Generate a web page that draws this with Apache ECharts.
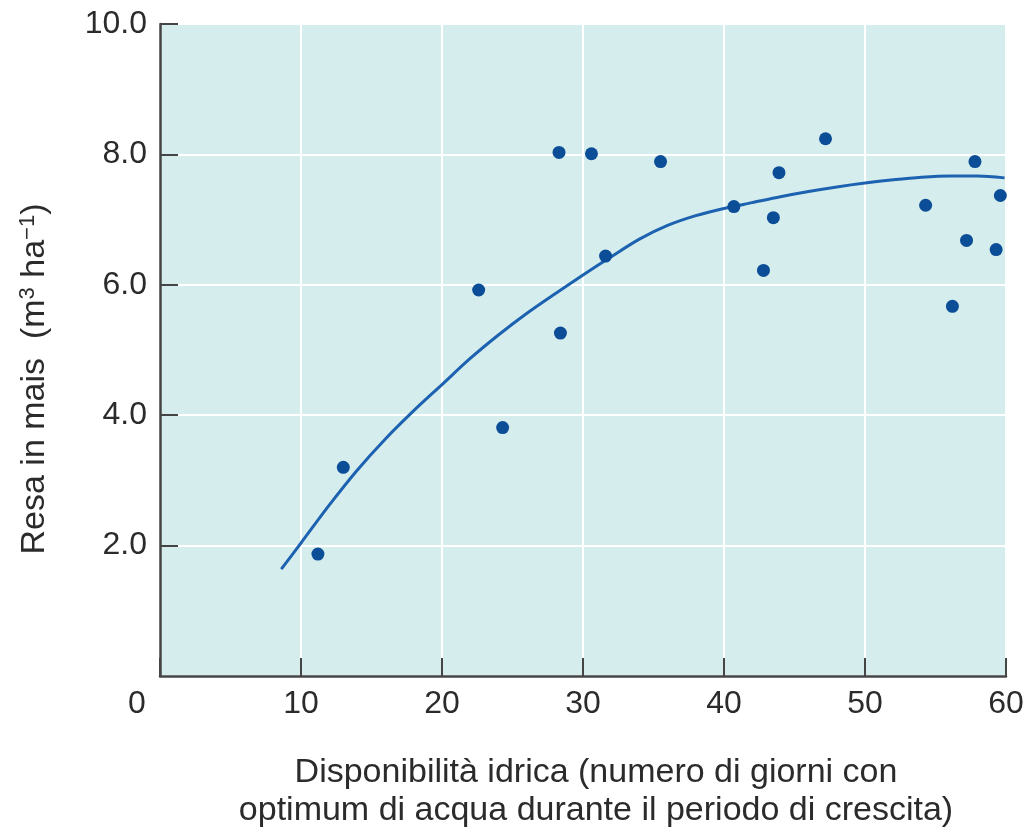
<!DOCTYPE html>
<html>
<head>
<meta charset="utf-8">
<script src="https://cdn.jsdelivr.net/npm/echarts@6/dist/echarts.min.js"></script>
<style>
html,body{margin:0;padding:0;background:#fff;}
#chart{width:1035px;height:835px;}
</style>
</head>
<body>
<div id="chart"></div>
<script>
// Observed data points (water availability days, maize yield)
const pointsX = [11.2, 13.0, 22.6, 24.3, 28.3, 28.4, 30.6, 31.6, 35.5, 40.7, 42.8, 43.5, 43.9, 47.2, 54.3, 56.2, 57.2, 57.8, 59.3, 59.6];
const pointsY = [1.87, 3.20, 5.92, 3.81, 8.03, 5.26, 8.01, 6.44, 7.89, 7.20, 6.22, 7.03, 7.72, 8.24, 7.22, 5.67, 6.68, 7.89, 6.54, 7.37];
// Fitted curve
const curveX = [8.6, 10, 12, 14, 16, 18, 20, 22, 24, 26, 28, 30, 32, 34, 36, 38, 40, 42, 44, 46, 48, 50, 52, 54, 56, 58, 59.9];
const curveY = [1.64, 2.04, 2.62, 3.16, 3.64, 4.07, 4.47, 4.87, 5.23, 5.56, 5.86, 6.15, 6.43, 6.70, 6.91, 7.06, 7.17, 7.26, 7.35, 7.43, 7.50, 7.56, 7.61, 7.65, 7.67, 7.67, 7.64];
// Axis settings
const xMin = 0, xMax = 60, xStep = 10;
const yMin = 0, yMax = 10, yStep = 2;
const xTitle = 'Disponibilità idrica (numero di giorni con\noptimum di acqua durante il periodo di crescita)';

const FONT = "'Liberation Sans', Arial, Helvetica, sans-serif";
const TXT = '#2b2b2b';
const AX = '#454545';

const chart = echarts.init(document.getElementById('chart'), null, {renderer: 'canvas'});
chart.setOption({
  animation: false,
  backgroundColor: '#ffffff',
  grid: {
    left: 160, right: 29, top: 24, bottom: 157,
    show: true, backgroundColor: '#d6eded', borderWidth: 0
  },
  xAxis: {
    type: 'value', min: xMin, max: xMax, interval: xStep,
    axisLine: {show: true, onZero: false, lineStyle: {color: AX, width: 2.5}},
    axisTick: {show: true, inside: true, length: 18, lineStyle: {color: AX, width: 2}},
    splitLine: {show: true, lineStyle: {color: '#ffffff', width: 2}},
    axisLabel: {
      margin: 12, fontSize: 32, color: TXT, fontFamily: FONT,
      formatter: function (v) { return v === xMin ? '{z|' + v + '}' : String(v); },
      rich: {z: {fontSize: 32, color: TXT, fontFamily: FONT, padding: [0, 46, 0, 0]}}
    },
    name: xTitle,
    nameLocation: 'middle',
    nameGap: 78,
    nameTextStyle: {fontSize: 34, color: TXT, fontFamily: FONT, lineHeight: 38, align: 'center', padding: [0, 0, 0, 26]}
  },
  yAxis: {
    type: 'value', min: yMin, max: yMax, interval: yStep,
    axisLine: {show: true, onZero: false, lineStyle: {color: AX, width: 2.5}},
    axisTick: {show: true, inside: true, length: 18, lineStyle: {color: AX, width: 2}},
    splitLine: {show: true, lineStyle: {color: '#ffffff', width: 2}},
    axisLabel: {
      margin: 13, fontSize: 32, color: TXT, fontFamily: FONT, showMinLabel: false,
      formatter: function (v) { return v.toFixed(1); }
    },
    name: '{n|Resa in mais  (m}{s|3}{n| ha}{s|−1}{n|)}',
    nameLocation: 'middle',
    nameGap: 107,
    nameTextStyle: {
      color: TXT, fontFamily: FONT, padding: [0, 58, 0, 0],
      rich: {
        n: {fontSize: 34, color: TXT, fontFamily: FONT},
        s: {fontSize: 22, color: TXT, fontFamily: FONT, verticalAlign: 'top', padding: [0, 0, 14, 0]}
      }
    }
  },
  series: [
    {
      type: 'line',
      data: curveX.map((x, i) => [x, curveY[i]]),
      smooth: 0.3,
      symbol: 'none',
      lineStyle: {color: '#1c62b0', width: 3},
      z: 2
    },
    {
      type: 'scatter',
      data: pointsX.map((x, i) => [x, pointsY[i]]),
      symbol: 'circle',
      symbolSize: 13,
      itemStyle: {color: '#0b4d97', opacity: 1},
      z: 3
    }
  ]
});
</script>
</body>
</html>
